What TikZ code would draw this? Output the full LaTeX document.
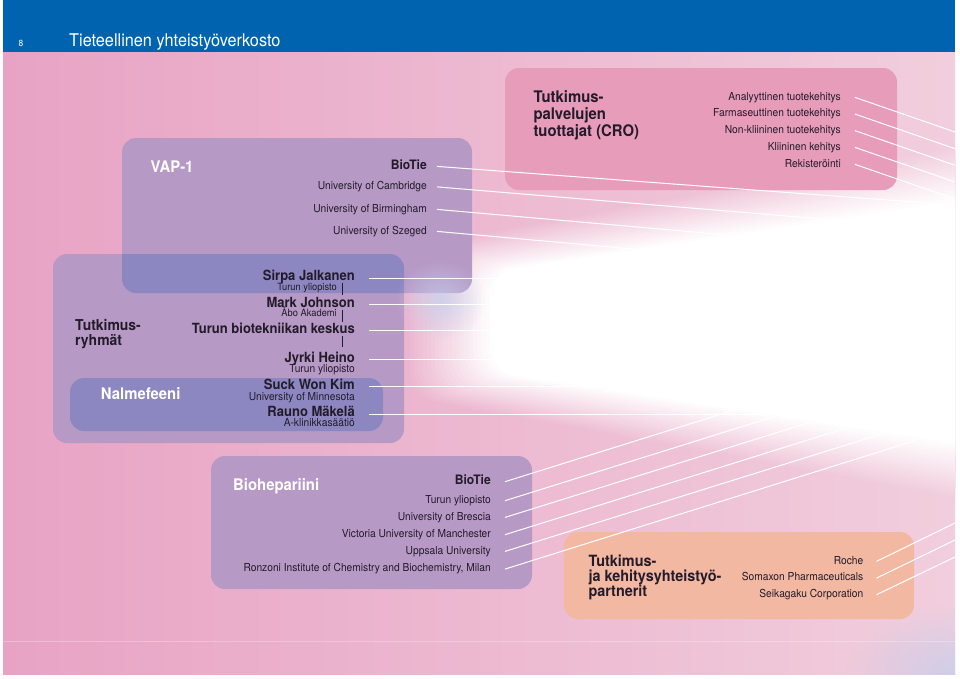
\documentclass[tikz,border=0pt]{standalone}
\usepackage{fontspec}
\setmainfont{TeX Gyre Heros}[FakeStretch=0.93]
\usepackage{xcolor}
\usetikzlibrary{fadings}
\definecolor{barblue}{RGB}{0,99,176}
\definecolor{bgleft}{RGB}{232,163,196}
\definecolor{bgright}{RGB}{241,206,221}
\definecolor{lilac}{RGB}{183,153,197}
\definecolor{indigo}{RGB}{141,135,193}
\definecolor{rose}{RGB}{231,156,186}
\definecolor{peach}{RGB}{243,184,162}
\definecolor{ink}{RGB}{35,27,42}
\definecolor{haze}{RGB}{196,206,236}
\newcommand{\fsz}[2]{\fontsize{#1}{#2}\selectfont}
\tikzfading[name=softspot, inner color=transparent!25, outer color=transparent!100]
\tikzset{
  item/.style={anchor=base east, inner sep=0pt, text=ink, font=\fsz{11}{11}},
  head/.style={anchor=base west, inner sep=0pt, align=left, font=\fsz{16}{16.7}\bfseries},
  ray/.style={draw=white, line width=1pt},
  panel/.style={rounded corners=14pt},
  beam/.style={rounded corners=25pt}
}

\begin{document}
\begin{tikzpicture}[x=1pt,y=-1pt]
  \useasboundingbox (0,0) rectangle (960,678);
  \fill[white] (0,0) rectangle (960,678);
  \begin{scope}
    \clip (3,0) rectangle (955,674);
    \shade[left color=bgleft, right color=bgright] (3,0) rectangle (955,674);
    \fill[haze, path fading=softspot] (955,674) ellipse [x radius=110, y radius=70];
    \draw[white, opacity=.25] (3,641) -- (955,641);
    \foreach \k in {0,...,19} {
      \pgfmathsetmacro{\xl}{410+4.21*\k}
      \pgfmathsetmacro{\hl}{75-1.316*\k}
      \pgfmathsetmacro{\hr}{180-2.895*\k}
      \pgfmathtruncatemacro{\mixl}{(\xl-3)/9.52}
      \pgfmathtruncatemacro{\keep}{95-5*\k}
      \shade[beam, left color=bgright!\mixl!bgleft!\keep!white, right color=bgright!\keep!white]
        (\xl,322-\hl) -- (980,322-\hr) -- (980,322+\hr) -- (\xl,322+\hl) -- cycle;
    }
    \fill[barblue] (3,0) rectangle (955,52);

    \fill[lilac, panel] (122,138) rectangle (472,293);
    \fill[lilac, panel] (53,254) rectangle (404,443);
    \begin{scope}
      \clip[panel] (122,138) rectangle (472,293);
      \fill[indigo, panel] (53,254) rectangle (404,443);
    \end{scope}
    \fill[indigo, panel] (70,378) rectangle (383,431);
    \fill[lilac, panel] (211,456) rectangle (532,589);
    \fill[rose, panel] (505,68) rectangle (897,190);
    \fill[peach, panel] (564,532) rectangle (914,619);
    \fill[haze, path fading=softspot] (440,300) ellipse [x radius=45, y radius=40];

    \node[anchor=base, inner sep=0pt, text=white, font=\fsz{9}{9}] (pagenum) at (21,46.5) {8};
    \node[anchor=base west, inner sep=0pt, text=white, font=\fsz{17.5}{18}] (title) at (69,46.5) {Tieteellinen yhteistyöverkosto};

    \node[head, text=white] (vaphead) at (150.5,172.3) {VAP-1};
    \node[item, font=\fsz{13}{13}\bfseries] (vap0) at (427,169) {BioTie};
    \foreach \t/\y [count=\i] in {University of Cambridge/189.5, University of Birmingham/212, University of Szeged/234}
      \node[item] (vap\i) at (427,\y) {\t};
    \foreach \i/\e in {0/205, 1/230, 2/255, 3/278} {
      \coordinate (vapend\i) at (955,\e);
      \draw[ray] ([xshift=10pt]vap\i.mid east) -- (vapend\i);
    }

    \node[head, text=ink] (crohead) at (533.3,136) {Tutkimus-\\palvelujen\\tuottajat (CRO)};
    \foreach \t/\y [count=\i] in {Analyyttinen tuotekehitys/100, Farmaseuttinen tuotekehitys/116.7, Non-kliininen tuotekehitys/133.3, Kliininen kehitys/150, Rekisteröinti/167} {
      \node[item] (cro\i) at (841,\y) {\t};
      \coordinate (croend\i) at (955,\y+32);
      \draw[ray] ([xshift=14pt]cro\i.mid east) -- (croend\i);
    }

    \node[head, text=ink, font=\fsz{15}{15.7}\bfseries] (grphead) at (75,345.7) {Tutkimus-\\ryhmät};
    \node[head, text=white] (nalhead) at (100.7,399) {Nalmefeeni};
    \coordinate (rim) at (955,0);
    \foreach \t/\y [count=\i] in {Sirpa Jalkanen/280.7, Mark Johnson/307.3, Turun biotekniikan keskus/333.3, Jyrki Heino/362.3, Suck Won Kim/389.3, Rauno Mäkelä/416.7} {
      \node[item, font=\fsz{14}{14}\bfseries] (per\i) at (355,\y) {\t};
      \draw[ray] ([xshift=14pt]per\i.mid east) -- (per\i.mid east -| rim);
    }
    \node[item, font=\fsz{10}{10}] (aff1) at (337,290) {Turun yliopisto};
    \node[item, font=\fsz{10}{10}] (aff2) at (337,316.7) {Åbo Akademi};
    \foreach \t/\y [count=\i from 3] in {Turun yliopisto/372.3, University of Minnesota/400, A-klinikkasäätiö/426.7}
      \node[item] (aff\i) at (355,\y) {\t};
    \foreach \a/\b in {283/295, 310/322, 336/347}
      \draw[ink, line width=1pt] (342,\a) -- (342,\b);

    \node[head, text=white] (biohead) at (233,490) {Biohepariini};
    \node[item, font=\fsz{13}{13}\bfseries] (bio0) at (491,484.3) {BioTie};
    \foreach \t/\y [count=\i] in {Turun yliopisto/503.3, University of Brescia/520, Victoria University of Manchester/537.3, Uppsala University/554, {Ronzoni Institute of Chemistry and Biochemistry, Milan}/571.7}
      \node[item] (bio\i) at (491,\y) {\t};
    \foreach \i/\e in {0/341, 1/360, 2/377, 3/394, 4/411, 5/428} {
      \coordinate (bioend\i) at (955,\e);
      \draw[ray] ([xshift=14pt]bio\i.mid east) -- (bioend\i);
    }

    \node[head, text=ink, font=\fsz{15.5}{15}\bfseries] (parthead) at (588.3,596.7) {Tutkimus-\\ja kehitysyhteistyö-\\partnerit};
    \foreach \t/\y/\e [count=\i] in {Roche/564/523, Somaxon Pharmaceuticals/580.7/540, Seikagaku Corporation/597.3/557} {
      \node[item] (part\i) at (863.5,\y) {\t};
      \coordinate (partend\i) at (955,\e);
      \draw[ray] ([xshift=13pt]part\i.mid east) -- (partend\i);
    }
  \end{scope}
\end{tikzpicture}
\end{document}
